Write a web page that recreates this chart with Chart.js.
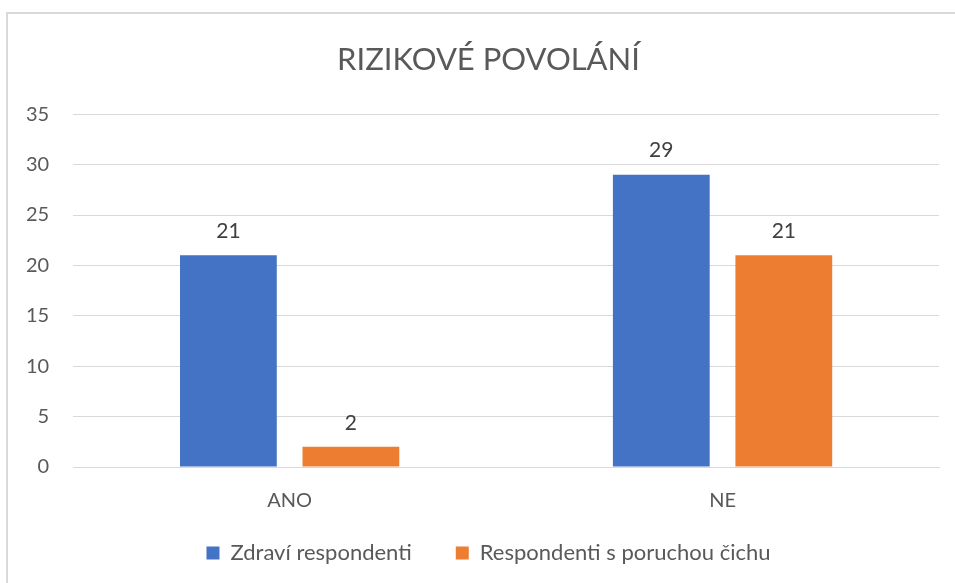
<!DOCTYPE html>
<html lang="cs">
<head>
<meta charset="UTF-8">
<title>Rizikové povolání</title>
<style>
    body { margin: 0; background: #fff; overflow: hidden; }
    #frame {
        position: absolute; left: 6px; top: 12px;
        width: 980px; height: 620px;
        border: 2px solid #d9d9d9; box-sizing: border-box;
    }
    #wrap { position: absolute; left: 0; top: 0; width: 955px; height: 583px; }
</style>
<script src="https://cdn.jsdelivr.net/npm/chart.js"></script>
</head>
<body>
<div id="frame"></div>
<div id="wrap"><canvas id="myChart"></canvas></div>
<script>
    const categories = ['ANO', 'NE'];
    const zdravi = [21, 29];
    const porucha = [2, 21];
    const seriesNames = ['Zdraví respondenti', 'Respondenti s poruchou čichu'];
    const yTicks = [0, 5, 10, 15, 20, 25, 30, 35];

    const FONT = 'Lato, "Open Sans", sans-serif';
    const textColor = '#595959';

    // hodnoty nad sloupci
    const valueLabels = {
        id: 'valueLabels',
        afterDatasetsDraw(chart) {
            const ctx = chart.ctx;
            ctx.save();
            ctx.font = '21px ' + FONT;
            ctx.fillStyle = '#404040';
            ctx.textAlign = 'center';
            ctx.textBaseline = 'middle';
            chart.data.datasets.forEach((ds, i) => {
                chart.getDatasetMeta(i).data.forEach((bar, j) => {
                    ctx.fillText(ds.data[j], bar.x, bar.y - 24);
                });
            });
            ctx.restore();
        }
    };

    // titulek a legenda jsou v originale posunute doprava, legenda nahoru
    const shiftBoxes = {
        id: 'shiftBoxes',
        afterLayout(chart) {
            const t = chart.titleBlock;
            t.left += 18; t.right += 18;
            const l = chart.legend;
            l.left += 18; l.right += 18;
            l.top -= 29; l.bottom -= 29;
        }
    };

    new Chart(document.getElementById('myChart'), {
        type: 'bar',
        data: {
            labels: categories,
            datasets: [
                { label: seriesNames[0], data: zdravi, backgroundColor: '#4472C4' },
                { label: seriesNames[1], data: porucha, backgroundColor: '#ED7D31' }
            ]
        },
        options: {
            responsive: true,
            maintainAspectRatio: false,
            animation: false,
            datasets: { bar: { categoryPercentage: 0.566, barPercentage: 0.79 } },
            layout: { padding: { left: 2, right: 16, top: 0, bottom: -20 } },
            plugins: {
                title: {
                    display: true,
                    text: 'RIZIKOVÉ POVOLÁNÍ',
                    color: textColor,
                    font: { family: FONT, size: 31, weight: 'normal' },
                    padding: { top: 41, bottom: 36 }
                },
                legend: {
                    position: 'bottom',
                    labels: {
                        color: textColor,
                        font: { family: FONT, size: 22 },
                        boxWidth: 13, boxHeight: 13,
                        padding: 44
                    }
                },
                tooltip: { enabled: false }
            },
            scales: {
                x: {
                    grid: { display: false },
                    border: { color: '#d9d9d9', width: 1 },
                    ticks: { color: textColor, font: { family: FONT, size: 20 }, padding: 14 }
                },
                y: {
                    min: 0, max: 35,
                    afterBuildTicks: s => { s.ticks = yTicks.map(v => ({ value: v })); },
                    grid: { color: '#d9d9d9', drawTicks: false },
                    border: { display: false },
                    ticks: { color: textColor, font: { family: FONT, size: 20 }, padding: 24 }
                }
            }
        },
        plugins: [valueLabels, shiftBoxes]
    });
</script>
</body>
</html>
